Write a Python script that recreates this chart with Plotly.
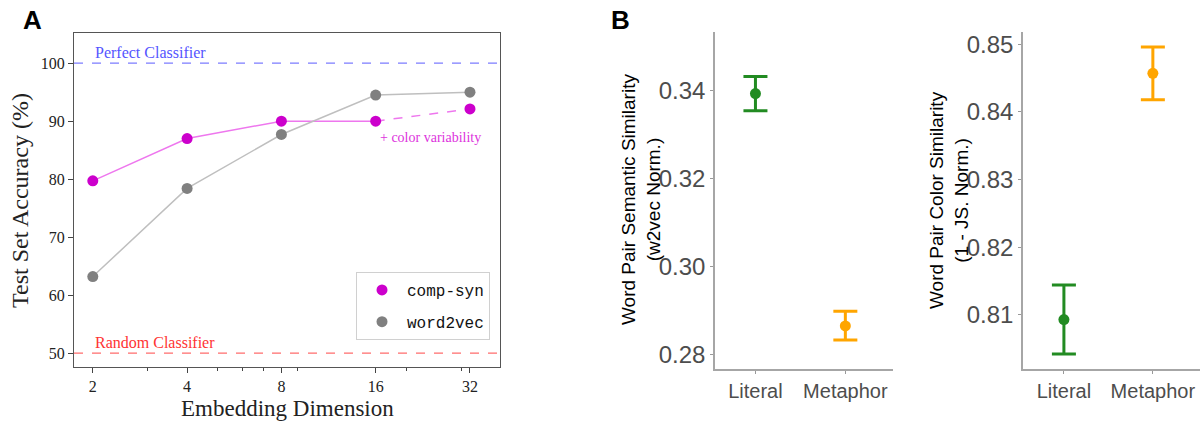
import math
import plotly.graph_objects as go

W, H = 1200, 421

# ---------- data ----------
dims = [2, 4, 8, 16, 32]
compsyn_acc = [79.7, 87.0, 90.0, 90.0, 92.1]
word2vec_acc = [63.2, 78.4, 87.7, 94.5, 95.0]
perfect_acc = 100
random_acc = 50

groups = ["Literal", "Metaphor"]
sem_mean = [0.3394, 0.2866]
sem_hi = [0.3433, 0.2899]
sem_lo = [0.3355, 0.2834]
col_mean = [0.8093, 0.8457]
col_hi = [0.8144, 0.8496]
col_lo = [0.8042, 0.8418]
group_colors = ["#228B22", "#FFA500"]

MAG = "#CC00CC"
MAG_LINE = "#EE77EE"
GRAY = "#808080"
GRAY_LINE = "#BFBFBF"

def px(x):
    return x / W

def py(y):
    return 1 - y / H

fig = go.Figure()

# ---------- Panel A ----------
fig.add_trace(go.Scatter(x=dims[:4], y=compsyn_acc[:4], mode="lines",
                         line=dict(color=MAG_LINE, width=1.5), showlegend=False,
                         xaxis="x", yaxis="y"))
fig.add_trace(go.Scatter(x=dims[3:], y=compsyn_acc[3:], mode="lines",
                         line=dict(color=MAG_LINE, width=1.5, dash="dash"), showlegend=False,
                         xaxis="x", yaxis="y"))
fig.add_trace(go.Scatter(x=dims, y=word2vec_acc, mode="lines",
                         line=dict(color=GRAY_LINE, width=1.5), showlegend=False,
                         xaxis="x", yaxis="y"))
fig.add_trace(go.Scatter(x=dims, y=compsyn_acc, mode="markers", name="comp-syn",
                         marker=dict(color=MAG, size=11), legendgroup="a",
                         xaxis="x", yaxis="y"))
fig.add_trace(go.Scatter(x=dims, y=word2vec_acc, mode="markers", name="word2vec",
                         marker=dict(color=GRAY, size=11), legendgroup="b",
                         xaxis="x", yaxis="y"))

# ---------- Panel B1 ----------
for i, g in enumerate(groups):
    fig.add_trace(go.Scatter(
        x=[g], y=[sem_mean[i]], mode="markers",
        marker=dict(color=group_colors[i], size=11),
        error_y=dict(type="data", symmetric=False,
                     array=[sem_hi[i] - sem_mean[i]],
                     arrayminus=[sem_mean[i] - sem_lo[i]],
                     color=group_colors[i], thickness=3, width=12),
        showlegend=False, xaxis="x2", yaxis="y2"))

# ---------- Panel B2 ----------
for i, g in enumerate(groups):
    fig.add_trace(go.Scatter(
        x=[g], y=[col_mean[i]], mode="markers",
        marker=dict(color=group_colors[i], size=11),
        error_y=dict(type="data", symmetric=False,
                     array=[col_hi[i] - col_mean[i]],
                     arrayminus=[col_mean[i] - col_lo[i]],
                     color=group_colors[i], thickness=3, width=12),
        showlegend=False, xaxis="x3", yaxis="y3"))

serif = "Liberation Serif"
sans = "Liberation Sans"
mono = "Liberation Mono"

minor_vals = [3, 5, 6, 7, 9, 20, 30, 40]

fig.update_layout(
    width=W, height=H,
    margin=dict(l=0, r=0, t=0, b=0),
    paper_bgcolor="white", plot_bgcolor="white",
    xaxis=dict(domain=[px(74), px(500)], type="log",
               range=[0.241, 1.601],
               tickvals=dims, ticktext=[str(d) for d in dims],
               ticks="outside", ticklen=5, tickcolor="#444",
               tickfont=dict(family=serif, size=16, color="#222"),
               showline=True, linecolor="#555", linewidth=1, mirror=True,
               showgrid=False, zeroline=False,
               minor=dict(tickvals=minor_vals, ticks="outside", ticklen=3,
                          tickcolor="#444", showgrid=False),
               anchor="y"),
    yaxis=dict(domain=[py(367), py(33)], range=[47.6, 105.2],
               tickvals=[50, 60, 70, 80, 90, 100],
               ticks="outside", ticklen=5, tickcolor="#444",
               tickfont=dict(family=serif, size=16, color="#222"),
               showline=True, linecolor="#555", linewidth=1, mirror=True,
               showgrid=False, zeroline=False, anchor="x"),
    xaxis2=dict(domain=[px(715), px(893)], type="category",
                categoryorder="array", categoryarray=groups,
                range=[-0.45, 1.53],
                ticks="outside", ticklen=3, tickcolor="#999",
                tickfont=dict(family=sans, size=20, color="#4D4D4D"),
                showline=True, linecolor="#A6A6A6", linewidth=1.5,
                showgrid=False, zeroline=False, anchor="y2"),
    yaxis2=dict(domain=[py(369), py(32)], range=[0.2768, 0.3534],
                tickvals=[0.28, 0.30, 0.32, 0.34], tickformat=".2f",
                ticks="outside", ticklen=3, tickcolor="#999",
                tickfont=dict(family=sans, size=24, color="#4D4D4D"),
                showline=True, linecolor="#A6A6A6", linewidth=1.5,
                showgrid=False, zeroline=False, anchor="x2"),
    xaxis3=dict(domain=[px(1023), 1.0], type="category",
                categoryorder="array", categoryarray=groups,
                range=[-0.46, 1.53],
                ticks="outside", ticklen=3, tickcolor="#999",
                tickfont=dict(family=sans, size=20, color="#4D4D4D"),
                showline=True, linecolor="#A6A6A6", linewidth=1.5,
                showgrid=False, zeroline=False, anchor="y3"),
    yaxis3=dict(domain=[py(369), py(32)], range=[0.802, 0.8518],
                tickvals=[0.81, 0.82, 0.83, 0.84, 0.85], tickformat=".2f",
                ticks="outside", ticklen=3, tickcolor="#999",
                tickfont=dict(family=sans, size=24, color="#4D4D4D"),
                showline=True, linecolor="#A6A6A6", linewidth=1.5,
                showgrid=False, zeroline=False, anchor="x3"),
    legend=dict(x=px(490), xanchor="right", y=py(340), yanchor="bottom",
                bgcolor="white", bordercolor="#D0D0D0", borderwidth=1,
                font=dict(family=mono, size=16, color="#111"),
                traceorder="grouped", tracegroupgap=8,
                itemwidth=40),
)

# reference lines
fig.add_shape(type="line", xref="x domain", yref="y", x0=0, x1=1,
              y0=perfect_acc, y1=perfect_acc,
              line=dict(color="rgba(90,90,255,0.8)", width=1.3, dash="dash"))
fig.add_shape(type="line", xref="x domain", yref="y", x0=0, x1=1,
              y0=random_acc, y1=random_acc,
              line=dict(color="rgba(255,70,70,0.8)", width=1.3, dash="dash"))

x_first = math.log10(dims[0])  # log axis: annotation x in log units

ann = []
ann.append(dict(text="Perfect Classifier", x=x_first, y=perfect_acc, xref="x", yref="y",
                xanchor="left", yanchor="bottom", showarrow=False, yshift=0,
                font=dict(family=serif, size=16, color="#5555FF")))
ann.append(dict(text="Random Classifier", x=x_first, y=random_acc, xref="x", yref="y",
                xanchor="left", yanchor="bottom", showarrow=False, yshift=0,
                font=dict(family=serif, size=16, color="#FF3333")))
ann.append(dict(text="+ color variability", x=px(483), y=py(137), xref="paper", yref="paper",
                xanchor="right", yanchor="middle", showarrow=False,
                font=dict(family=serif, size=14, color="#DD33DD")))
ann.append(dict(text="Embedding Dimension", x=px(287), y=py(408), xref="paper", yref="paper",
                xanchor="center", yanchor="middle", showarrow=False,
                font=dict(family=serif, size=23, color="#222")))
ann.append(dict(text="Test Set Accuracy (%)", x=px(20), y=py(201), xref="paper", yref="paper",
                xanchor="center", yanchor="middle", showarrow=False, textangle=-90,
                font=dict(family=serif, size=24, color="#222")))
ann.append(dict(text="<b>A</b>", x=px(32), y=py(20), xref="paper", yref="paper",
                xanchor="center", yanchor="middle", showarrow=False,
                font=dict(family=sans, size=26, color="black")))
ann.append(dict(text="<b>B</b>", x=px(620), y=py(20), xref="paper", yref="paper",
                xanchor="center", yanchor="middle", showarrow=False,
                font=dict(family=sans, size=26, color="black")))
ann.append(dict(text="Word Pair Semantic Similarity<br>(w2vec Norm.)", x=px(641), y=py(200),
                xref="paper", yref="paper", xanchor="center", yanchor="middle",
                showarrow=False, textangle=-90,
                font=dict(family=sans, size=19, color="black")))
ann.append(dict(text="Word Pair Color Similarity<br>(1 - JS. Norm.)", x=px(949), y=py(200),
                xref="paper", yref="paper", xanchor="center", yanchor="middle",
                showarrow=False, textangle=-90,
                font=dict(family=sans, size=19, color="black")))
fig.update_layout(annotations=ann)

fig.write_html("out.html",
               config={"displayModeBar": False},
               post_script="document.body.style.margin='0';document.body.style.overflow='hidden';")
